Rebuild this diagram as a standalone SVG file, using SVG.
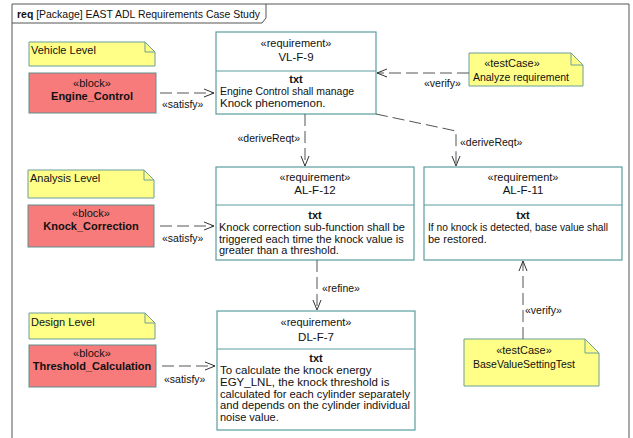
<svg xmlns="http://www.w3.org/2000/svg" width="633" height="438" viewBox="0 0 633 438">
<defs>
<style>
text{font-family:"Liberation Sans",Arial,sans-serif;font-size:11px;fill:#111}
.c{text-anchor:middle}
.b{font-weight:bold}
.t{font-size:11.5px}
.frame{fill:none;stroke:#555;stroke-width:1}
.note{fill:#FFFF88;stroke:#6a9e9a;stroke-width:1}
.blk{fill:#F77B7B;stroke:#5a8f8c;stroke-width:1}
.req{fill:#fff;stroke:#5b9d9f;stroke-width:1.2}
.con line,.con polyline{fill:none;stroke:#555;stroke-width:1;stroke-dasharray:12,5}
.lbl{font-size:10.5px}
</style>
<marker id="arr" viewBox="0 0 12 10" refX="11" refY="5" markerWidth="12" markerHeight="10" markerUnits="userSpaceOnUse" orient="auto">
<path d="M1,1 L11,5 L1,9" fill="none" stroke="#333" stroke-width="1"/>
</marker>
</defs>
<rect width="633" height="438" fill="#fff"/>
<g id="frame">
<path class="frame" d="M12,438 V4 H629 V438"/>
<path class="frame" d="M12,23 H262 L266,18 V4"/>
<text x="17" y="18" textLength="243" lengthAdjust="spacingAndGlyphs"><tspan class="b">req</tspan> [Package] EAST ADL Requirements Case Study</text>
</g>

<g id="note-vehicle">
<path class="note" d="M29,42 H145 L155,52 V66 H29 Z"/>
<path d="M145,42 V52 H155" fill="none" stroke="#6a9e9a"/>
<text x="31" y="54">Vehicle Level</text>
</g>
<g id="note-analysis">
<path class="note" d="M28,170 H144 L154,180 V198 H28 Z"/>
<path d="M144,170 V180 H154" fill="none" stroke="#6a9e9a"/>
<text x="30" y="182">Analysis Level</text>
</g>
<g id="note-design">
<path class="note" d="M29,313 H145 L155,323 V339 H29 Z"/>
<path d="M145,313 V323 H155" fill="none" stroke="#6a9e9a"/>
<text x="31" y="326">Design Level</text>
</g>

<g id="block-engine">
<rect class="blk" x="29" y="73" width="127" height="40"/>
<text x="92" y="87" class="c">«block»</text>
<text x="92" y="100" class="c b">Engine_Control</text>
</g>
<g id="block-knock">
<rect class="blk" x="28" y="205" width="126" height="42"/>
<text x="91" y="217" class="c">«block»</text>
<text x="91" y="230" class="c b">Knock_Correction</text>
</g>
<g id="block-threshold">
<rect class="blk" x="29" y="345" width="127" height="42"/>
<text x="92" y="357" class="c">«block»</text>
<text x="92" y="370" class="c b">Threshold_Calculation</text>
</g>

<g id="req-VL-F-9">
<rect class="req" x="216" y="32" width="160" height="82"/>
<line x1="216" y1="71" x2="376" y2="71" stroke="#5b9d9f" stroke-width="1.2"/>
<text x="296" y="47" class="c">«requirement»</text>
<text x="296" y="61" class="c t">VL-F-9</text>
<text x="296" y="83" class="c b">txt</text>
<text x="220" y="95" class="t" textLength="134" lengthAdjust="spacingAndGlyphs">Engine Control shall manage</text>
<text x="220" y="107" class="t">Knock phenomenon.</text>
</g>
<g id="req-AL-F-12">
<rect class="req" x="216" y="167" width="198" height="93"/>
<line x1="216" y1="205" x2="414" y2="205" stroke="#5b9d9f" stroke-width="1.2"/>
<text x="315" y="181" class="c">«requirement»</text>
<text x="315" y="194" class="c t">AL-F-12</text>
<text x="315" y="219" class="c b">txt</text>
<text x="219" y="231">Knock correction sub-function shall be</text>
<text x="219" y="243">triggered each time the knock value is</text>
<text x="219" y="254">greater than a threshold.</text>
</g>
<g id="req-AL-F-11">
<rect class="req" x="424" y="167" width="198" height="93"/>
<line x1="424" y1="205" x2="622" y2="205" stroke="#5b9d9f" stroke-width="1.2"/>
<text x="523" y="181" class="c">«requirement»</text>
<text x="523" y="194" class="c t">AL-F-11</text>
<text x="523" y="219" class="c b">txt</text>
<text x="428" y="231" textLength="180" lengthAdjust="spacingAndGlyphs">If no knock is detected, base value shall</text>
<text x="428" y="243">be restored.</text>
</g>
<g id="req-DL-F-7">
<rect class="req" x="217" y="311" width="198" height="119"/>
<line x1="217" y1="349" x2="415" y2="349" stroke="#5b9d9f" stroke-width="1.2"/>
<text x="316" y="326" class="c">«requirement»</text>
<text x="316" y="341" class="c t">DL-F-7</text>
<text x="316" y="362" class="c b">txt</text>
<text x="220" y="374" class="t">To calculate the knock energy</text>
<text x="220" y="386" class="t">EGY_LNL, the knock threshold is</text>
<text x="220" y="398" textLength="190" lengthAdjust="spacingAndGlyphs">calculated for each cylinder separately</text>
<text x="220" y="409" textLength="190" lengthAdjust="spacingAndGlyphs">and depends on the cylinder individual</text>
<text x="220" y="421">noise value.</text>
</g>

<g id="test-analyze">
<path class="note" d="M469,53 H571 L583,65 V86 H469 Z"/>
<path d="M571,53 V65 H583" fill="none" stroke="#6a9e9a"/>
<text x="512" y="67" class="c">«testCase»</text>
<text x="473" y="81" textLength="96" lengthAdjust="spacingAndGlyphs">Analyze requirement</text>
</g>
<g id="test-basevalue">
<path class="note" d="M464,339 H585 L599,353 V386 H464 Z"/>
<path d="M585,339 V353 H599" fill="none" stroke="#6a9e9a"/>
<text x="524" y="354" class="c">«testCase»</text>
<text x="473" y="368" textLength="102" lengthAdjust="spacingAndGlyphs">BaseValueSettingTest</text>
</g>

<g id="connectors" class="con">
<line x1="160" y1="93" x2="214" y2="93" marker-end="url(#arr)"/>
<text x="162" y="108" class="lbl">«satisfy»</text>
<line x1="160" y1="226" x2="214" y2="226" marker-end="url(#arr)"/>
<text x="162" y="242" class="lbl">«satisfy»</text>
<line x1="162" y1="366" x2="215" y2="366" marker-end="url(#arr)"/>
<text x="164" y="383" class="lbl">«satisfy»</text>
<line x1="469" y1="73" x2="377" y2="73" marker-end="url(#arr)"/>
<text x="424" y="87" class="lbl">«verify»</text>
<line x1="305" y1="114" x2="305" y2="166" marker-end="url(#arr)"/>
<text x="300" y="142" class="lbl" text-anchor="end">«deriveReqt»</text>
<polyline points="376,114 456,131 456,166" marker-end="url(#arr)"/>
<text x="460" y="146" class="lbl">«deriveReqt»</text>
<line x1="317" y1="260" x2="317" y2="310" marker-end="url(#arr)"/>
<text x="322" y="292" class="lbl">«refine»</text>
<line x1="523" y1="339" x2="523" y2="261" marker-end="url(#arr)"/>
<text x="525" y="314" class="lbl">«verify»</text>
</g>
</svg>
